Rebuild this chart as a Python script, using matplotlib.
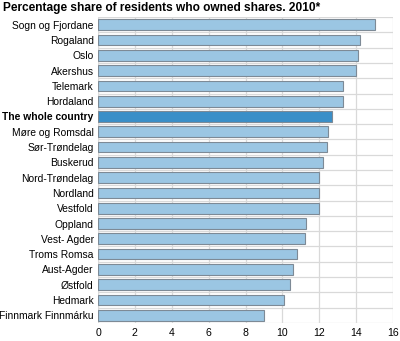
import matplotlib.pyplot as plt
import numpy as np

# Andel bosatte som eide aksjer, 2010
fylker = ["Sogn og Fjordane", "Rogaland", "Oslo", "Akershus", "Telemark", "Hordaland",
          "The whole country", "Møre og Romsdal", "Sør-Trøndelag", "Buskerud",
          "Nord-Trøndelag", "Nordland", "Vestfold", "Oppland", "Vest- Agder",
          "Troms Romsa", "Aust-Agder", "Østfold", "Hedmark", "Finnmark Finnmárku"]
andel = [15.0, 14.2, 14.1, 14.0, 13.3, 13.3, 12.7, 12.5, 12.4, 12.2,
         12.0, 12.0, 12.0, 11.3, 11.2, 10.8, 10.6, 10.4, 10.1, 9.0]
xticks = [0, 2, 4, 6, 8, 10, 12, 14, 16]

plt.rcParams['font.family'] = ['Liberation Sans', 'DejaVu Sans']

fig = plt.figure(figsize=(4.0, 3.41), dpi=100)
ax = fig.add_axes([0.245, 0.053, 0.7375, 0.897])

y = np.arange(len(fylker))
farger = ["#3a8fc8" if f == "The whole country" else "#9bc6e3" for f in fylker]
ax.barh(y, andel, height=0.7, color=farger, edgecolor="#7d8a96", linewidth=0.8, zorder=3)

ax.set_ylim(len(fylker) - 0.5, -0.5)
ax.set_xlim(0, 16)
ax.set_xticks(xticks)
ax.set_yticks(y)
ax.set_yticklabels(fylker, fontsize=7.4)
for lab in ax.get_yticklabels():
    if lab.get_text() == "The whole country":
        lab.set_fontweight("bold")
ax.tick_params(axis="x", labelsize=7.6, length=0, pad=3.5)
ax.tick_params(axis="y", length=0, pad=3)

# rutenett: loddrett ved hver tick, vannrett mellom stolpene
ax.set_axisbelow(True)
ax.grid(axis="x", color="#d9d9d9", linewidth=0.9, zorder=0)
for yy in np.arange(-0.5, len(fylker), 1.0):
    ax.axhline(yy, color="#d9d9d9", linewidth=0.9, zorder=0)
for s in ax.spines.values():
    s.set_visible(False)
ax.axvline(0, color="#d9d9d9", linewidth=0.9, zorder=1)

fig.text(0.008, 0.993, "Percentage share of residents who owned shares. 2010*",
         fontsize=8.6, fontweight="bold", va="top", ha="left")

fig.savefig("out.png", dpi=100)
